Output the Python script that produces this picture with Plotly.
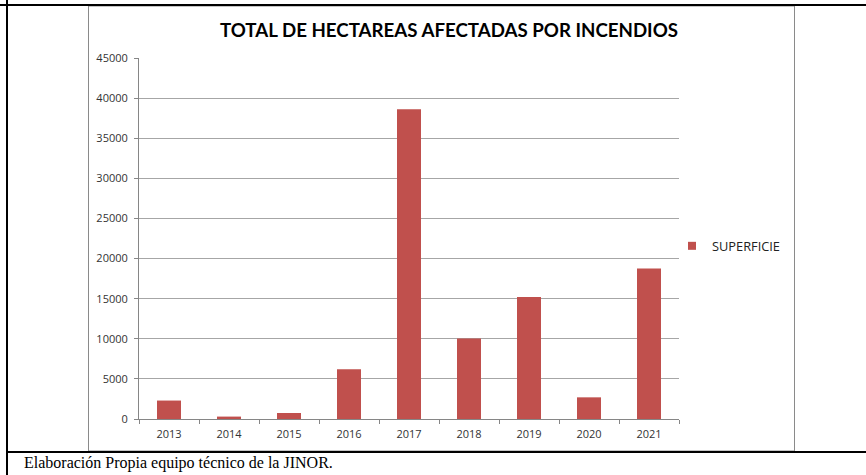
import plotly.graph_objects as go

years = ["2013", "2014", "2015", "2016", "2017", "2018", "2019", "2020", "2021"]
superficie = [2300, 300, 750, 6200, 38600, 10050, 15200, 2700, 18750]
y_ticks = [0, 5000, 10000, 15000, 20000, 25000, 30000, 35000, 40000, 45000]

W, H = 866, 475
ML, MR, MT, MB = 139, 187, 58, 56
PW, PH = W - ML - MR, H - MT - MB


def px(x):
    return (x - ML) / PW


def py(y):
    return (H - MB - y) / PH


fig = go.Figure()
fig.add_trace(go.Bar(x=years, y=superficie, name="SUPERFICIE",
                     marker=dict(color="#C0504D", line=dict(width=0)),
                     showlegend=False))
fig.add_trace(go.Scatter(x=[None], y=[None], mode="markers", name="SUPERFICIE",
                         marker=dict(symbol="square", size=8, color="#C0504D")))

shapes = []
# chart frame (gray)
shapes.append(dict(type="rect", xref="paper", yref="paper",
                   x0=px(88.5), x1=px(794.5), y0=py(451), y1=py(6),
                   line=dict(color="#8a8a8a", width=1), fillcolor="rgba(0,0,0,0)"))
# table borders (black)
shapes.append(dict(type="line", xref="paper", yref="paper",
                   x0=px(0), x1=px(866), y0=py(5), y1=py(5),
                   line=dict(color="black", width=2)))
shapes.append(dict(type="line", xref="paper", yref="paper",
                   x0=px(7), x1=px(7), y0=py(0), y1=py(475),
                   line=dict(color="black", width=2)))
shapes.append(dict(type="line", xref="paper", yref="paper",
                   x0=px(7), x1=px(866), y0=py(452), y1=py(452),
                   line=dict(color="black", width=2)))

fig.update_layout(
    width=W, height=H,
    margin=dict(l=ML, r=MR, t=MT, b=MB),
    paper_bgcolor="white", plot_bgcolor="white",
    bargap=0.6,
    title=dict(text="<b>TOTAL DE HECTAREAS AFECTADAS POR INCENDIOS</b>",
               xref="paper", x=px(449), xanchor="center",
               yref="container", y=1 - 30 / H, yanchor="middle",
               font=dict(family="Lato", size=18.7, color="black")),
    xaxis=dict(type="category", showgrid=False, showline=True, linecolor="#868686",
               linewidth=1, ticks="outside", tickson="boundaries", ticklen=4,
               tickcolor="#868686", ticklabelstandoff=5,
               tickfont=dict(family="Open Sans", size=11, color="#333333")),
    yaxis=dict(range=[0, 45000], tickvals=y_ticks, tickformat="d", showgrid=True,
               gridcolor="#a6a6a6", gridwidth=1, showline=True, linecolor="#868686",
               linewidth=1, ticks="outside", ticklen=4, tickcolor="#868686", zeroline=False,
               ticklabelstandoff=4,
               tickfont=dict(family="Open Sans", size=11, color="#333333")),
    legend=dict(x=px(672), xanchor="left", y=py(246), yanchor="middle",
                font=dict(family="Open Sans", size=12.8, color="#222222"),
                bgcolor="rgba(0,0,0,0)"),
    shapes=shapes,
    annotations=[dict(text="Elaboración Propia equipo técnico de la JINOR.",
                      xref="paper", yref="paper", x=px(22), y=py(463),
                      xanchor="left", yanchor="middle", showarrow=False,
                      font=dict(family="Liberation Serif", size=16, color="black"))],
)

fig.write_html("out.html",
               config={"displayModeBar": False},
               post_script="document.body.style.margin='0';"
                           "document.body.style.overflow='hidden';")
